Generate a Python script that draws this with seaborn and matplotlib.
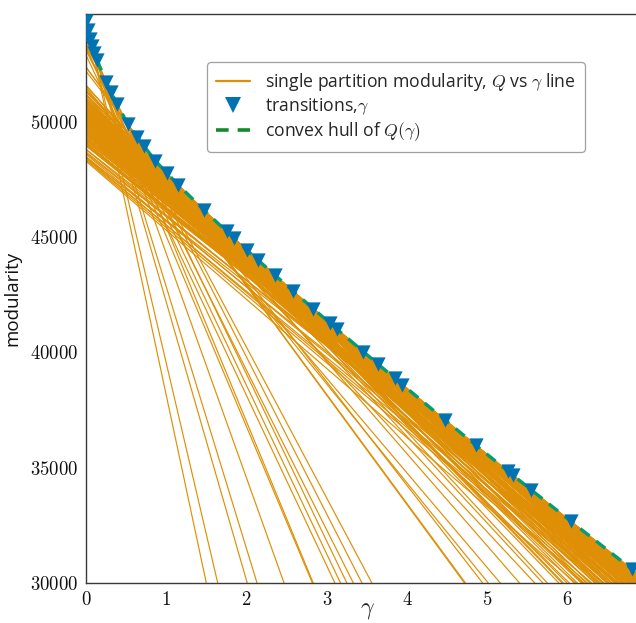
import numpy as np
import pandas as pd
import matplotlib
matplotlib.use("Agg")
import matplotlib.pyplot as plt
import seaborn as sns
from matplotlib.lines import Line2D
from matplotlib.ticker import FuncFormatter, FixedLocator

# ---------------- data ----------------
# transitions (markers on the convex hull)
gamma_t = [0.005, 0.03, 0.055, 0.08, 0.105, 0.14, 0.25, 0.31, 0.385, 0.52,
           0.635, 0.725, 0.865, 1.01, 1.15, 1.475, 1.75, 1.845, 2.0, 2.145,
           2.355, 2.575, 2.83, 3.04, 3.13, 3.455, 3.64, 3.845, 3.94, 4.47,
           4.86, 5.26, 5.32, 5.54, 6.04, 6.80]
Q_t = [54376, 53968, 53596, 53294, 53010, 52669, 51742, 51307, 50796, 49912,
       49366, 48940, 48311, 47767, 47263, 46158, 45253, 44947, 44454, 43999,
       43348, 42674, 41900, 41268, 40999, 40034, 39488, 38886, 38609, 37077,
       35965, 34837, 34669, 34055, 32675, 30600]

# other single-partition lines: value at gamma=0 and gamma where Q reaches 30000
q_at_0 = [53300, 52900, 53200, 53100,
          51500, 51200, 51600, 50900, 51355, 51203,
          51300, 51100, 50950, 50800, 50700, 50600, 50450, 50300, 50150, 50000,
          49850, 49700, 49600, 49400, 49200, 49000, 48800, 48600, 48450, 48300,
          50250, 49900, 49500, 49100, 50700, 50500, 50200, 49950, 49800, 49300,
          48960, 50950, 50850, 50650, 50400, 50050, 49750, 49450, 49050, 48700,
          48500, 48400, 48350, 49250, 50550, 49650,
          51023, 50861, 50694, 50498, 50340, 50145, 50021, 49846, 49667, 49520,
          49195, 49014,
          50823, 50661, 50494, 50298, 50140, 49945, 49821, 49646, 49467, 49320,
          48995, 48814,
          50473, 50311, 50144, 49948, 49790, 49595, 49471, 49296, 49117, 48970,
          48645, 48464]
gamma_at_30000 = [2.82, 3.10, 3.17, 3.33,
                  5.01, 5.16, 5.40, 5.59, 5.69, 5.89,
                  5.93, 5.99, 6.08, 6.19, 6.28, 6.37, 6.43, 6.50, 6.58, 6.67,
                  6.74, 6.80, 6.95, 6.95, 6.90, 6.75, 6.62, 6.45, 6.30, 6.10,
                  6.20, 6.35, 6.55, 6.60, 6.60, 6.70, 6.78, 6.85, 6.92, 6.98,
                  7.02, 6.40, 6.50, 6.55, 6.62, 6.76, 6.88, 6.90, 6.85, 6.70,
                  6.55, 6.40, 6.25, 6.50, 6.45, 6.62,
                  6.18, 6.34, 6.51, 6.61, 6.70, 6.78, 6.82, 6.87, 6.90, 6.92,
                  6.955, 6.965,
                  6.12, 6.28, 6.45, 6.55, 6.64, 6.71, 6.75, 6.80, 6.83, 6.85,
                  6.88, 6.89,
                  6.02, 6.17, 6.34, 6.43, 6.52, 6.60, 6.63, 6.68, 6.71, 6.72,
                  6.76, 6.76]

x_ticks = [0, 1, 2, 3, 4, 5, 6]
y_ticks = [30000, 35000, 40000, 45000, 50000]

ORANGE = "#DE8F05"
BLUE = "#0173B2"
GREEN = "#029E73"
LEG_GREEN = "#138a2a"

# ---------------- build line table ----------------
g_end = 7.3
rows = []
lid = 0
# partitions that are optimal between consecutive transitions
for k in range(len(gamma_t) - 1):
    s = (Q_t[k + 1] - Q_t[k]) / (gamma_t[k + 1] - gamma_t[k])
    for g in (0.0, g_end):
        rows.append((lid, g, Q_t[k] + s * (g - gamma_t[k])))
    lid += 1
# other partitions
for a, e in zip(q_at_0, gamma_at_30000):
    s = (30000 - a) / e
    for g in (0.0, g_end):
        rows.append((lid, g, a + s * g))
    lid += 1
df_lines = pd.DataFrame(rows, columns=["line", "gamma", "Q"])
df_hull = pd.DataFrame({"gamma": gamma_t, "Q": Q_t})

# ---------------- figure ----------------
sns.set_theme(style="white")
plt.rcParams["font.family"] = ["Open Sans", "DejaVu Sans"]
plt.rcParams["mathtext.fontset"] = "cm"

fig = plt.figure(figsize=(6.36, 6.23), dpi=100)
ax = fig.add_axes([86 / 636, 40 / 623, 562 / 636, 569 / 623])

sns.lineplot(data=df_lines, x="gamma", y="Q", units="line", estimator=None,
             color=ORANGE, linewidth=0.85, sort=False, legend=False, ax=ax,
             zorder=1)
sns.lineplot(data=df_hull, x="gamma", y="Q", color=GREEN, linewidth=2.4,
             sort=False, legend=False, ax=ax, zorder=2)
ax.lines[-1].set_dashes([3.5, 2.5])
sns.scatterplot(data=df_hull, x="gamma", y="Q", marker="v", s=105,
                color=BLUE, linewidth=0, legend=False, ax=ax, zorder=3)

ax.set_xlim(0, 7)
ax.set_ylim(30000, 54680)
ax.xaxis.set_major_locator(FixedLocator(x_ticks))
ax.yaxis.set_major_locator(FixedLocator(y_ticks))
fmt = FuncFormatter(lambda v, p: r"$%d$" % int(round(v)))
ax.xaxis.set_major_formatter(fmt)
ax.yaxis.set_major_formatter(fmt)
ax.tick_params(axis="both", direction="in", length=5, width=0.8,
               color="#b0b0b0", labelsize=13.5, pad=6, labelcolor="#111111")
for sp in ax.spines.values():
    sp.set_color("#3a3a3a")
    sp.set_linewidth(1.0)

ax.set_xlabel(r"$\gamma$", fontsize=17, labelpad=-9)
ax.set_ylabel("modularity", fontsize=13.5, labelpad=6, color="#111111")

handles = [
    Line2D([], [], color=ORANGE, linewidth=1.6),
    Line2D([], [], color=BLUE, marker="v", linestyle="None", markersize=11,
           markeredgewidth=0),
    Line2D([], [], color=LEG_GREEN, linewidth=2.6, dashes=[3.5, 2.5]),
]
labels = [r"single partition modularity, $Q$ vs $\gamma$ line",
          r"transitions,$\gamma$",
          r"convex hull of $Q(\gamma)$"]
leg = ax.legend(handles, labels, loc="upper right",
                bbox_to_anchor=((585 - 86) / 562, (583 - 62) / 569),
                borderaxespad=0, fontsize=12.7, frameon=True, fancybox=True,
                handlelength=1.9, handletextpad=0.9, labelspacing=0.2,
                borderpad=0.5)
leg.get_frame().set_edgecolor("#888888")
leg.get_frame().set_linewidth(0.9)

fig.savefig("out.png", dpi=100)
